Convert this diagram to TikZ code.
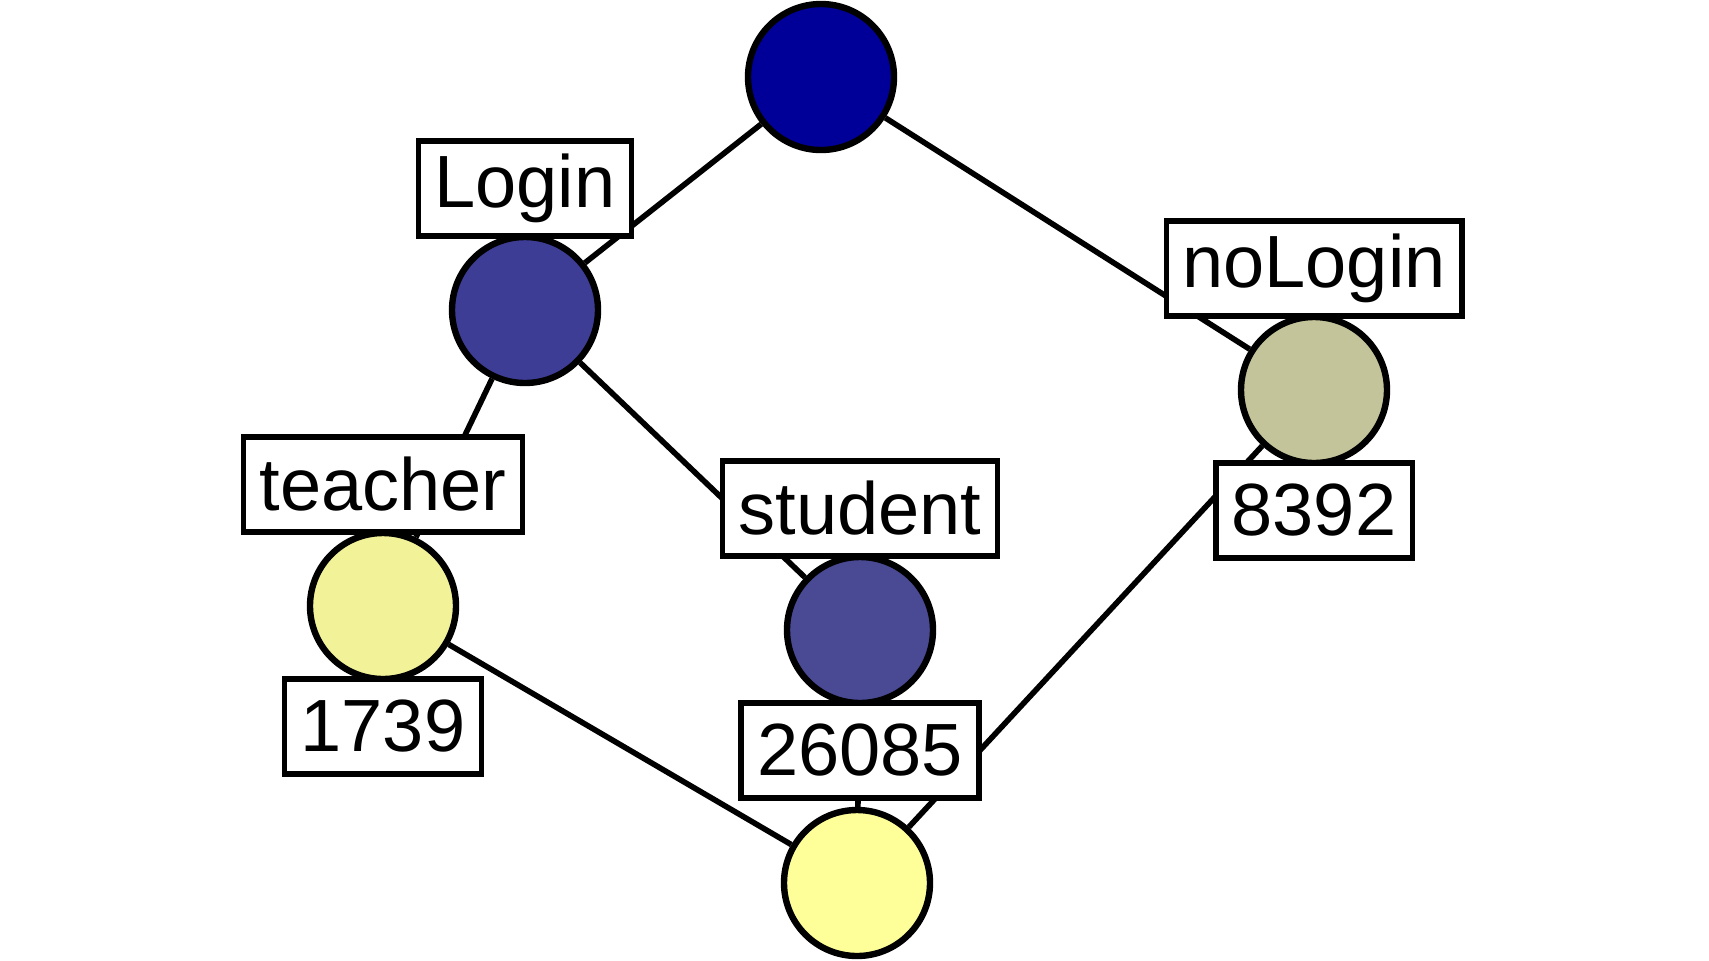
\documentclass[tikz,border=0pt]{standalone}
\usepackage{fontspec}
\setmainfont{Liberation Sans}
\usepackage{xcolor}
\usetikzlibrary{positioning}
\definecolor{topblue}{HTML}{000099}
\definecolor{loginblue}{HTML}{3D3D96}
\definecolor{studentblue}{HTML}{494994}
\definecolor{nologinkhaki}{HTML}{C4C49A}
\definecolor{teacheryellow}{HTML}{F2F299}
\definecolor{bottomyellow}{HTML}{FFFF99}

\begin{document}
\begin{tikzpicture}[x=0.5pt, y=-0.5pt,
    concept/.style={circle, draw, line width=3.2pt, minimum size=73pt, inner sep=0pt},
    tag/.style={draw, fill=white, line width=2.8pt, inner xsep=8pt, inner ysep=0pt,
                minimum height=47.5pt, font=\fontsize{37}{44}\selectfont},
    link/.style={line width=2.8pt}]
    \useasboundingbox (0,0) rectangle (1709,960);
    % lattice nodes
    \node[concept, fill=topblue] (top) at (821, 77) {};
    \node[concept, fill=loginblue] (login) at (525, 310) {};
    \node[concept, fill=nologinkhaki] (nologin) at (1314, 390) {};
    \node[concept, fill=teacheryellow] (teacher) at (383, 606) {};
    \node[concept, fill=studentblue] (student) at (860, 630) {};
    \node[concept, fill=bottomyellow] (bottom) at (857, 883) {};
    % edges
    \draw[link] (top) -- (login);
    \draw[link] (top) -- (nologin);
    \draw[link] (login) -- (teacher);
    \draw[link] (login) -- (student);
    \draw[link] (teacher) -- (bottom);
    \draw[link] (student) -- (bottom);
    \draw[link] (nologin) -- (bottom);
    % attribute and object labels
    \node[tag, above=-2.5pt of login] (loginlbl) {Login};
    \node[tag, above=-2.5pt of nologin] (nologinlbl) {noLogin};
    \node[tag, above=-2.5pt of teacher] (teacherlbl) {teacher};
    \node[tag, above=-2.5pt of student] (studentlbl) {student};
    \node[tag, below=-3pt of teacher] (teachercnt) {1739};
    \node[tag, below=-3pt of student] (studentcnt) {26085};
    \node[tag, below=-3pt of nologin] (nologincnt) {8392};
\end{tikzpicture}
\end{document}
